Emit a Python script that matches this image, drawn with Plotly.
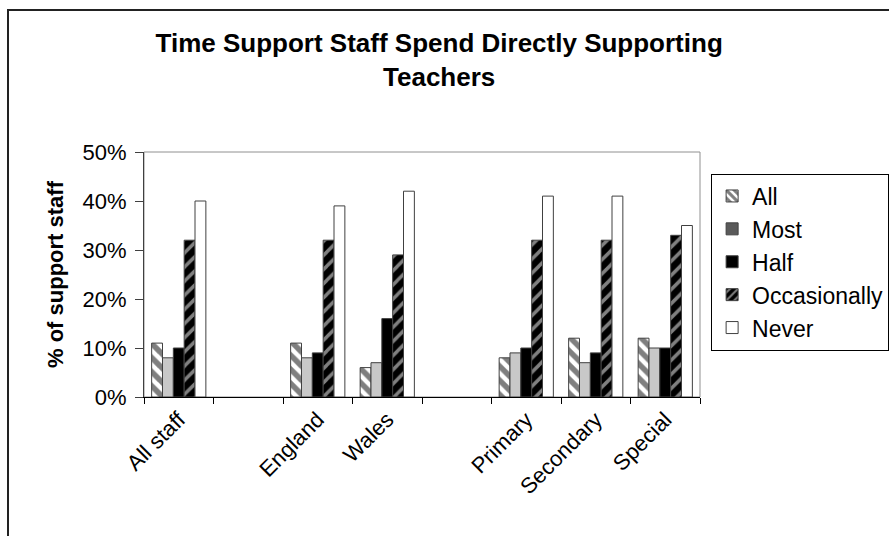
import plotly.graph_objects as go

categories = ["All staff", " ", "England", "Wales", "  ", "Primary", "Secondary", "Special"]
series_names = ["All", "Most", "Half", "Occasionally", "Never"]
all_vals = [0.11, None, 0.11, 0.06, None, 0.08, 0.12, 0.12]
most_vals = [0.08, None, 0.08, 0.07, None, 0.09, 0.07, 0.10]
half_vals = [0.10, None, 0.09, 0.16, None, 0.10, 0.09, 0.10]
occ_vals = [0.32, None, 0.32, 0.29, None, 0.32, 0.32, 0.33]
never_vals = [0.40, None, 0.39, 0.42, None, 0.41, 0.41, 0.35]
y_ticks = [0, 0.1, 0.2, 0.3, 0.4, 0.5]
y_ticktext = ["0%", "10%", "20%", "30%", "40%", "50%"]

FONT = "Arial, Liberation Sans, sans-serif"

bar_styles = [
    dict(color="white", pattern=dict(shape="\\", fgcolor="black", bgcolor="white", size=10, solidity=0.55)),
    dict(color="#c8c8c8"),
    dict(color="black"),
    dict(color="black", pattern=dict(shape="/", fgcolor="white", bgcolor="black", size=10, solidity=0.35)),
    dict(color="white"),
]
legend_styles = [
    dict(color="white", pattern=dict(shape="\\", fgcolor="black", bgcolor="white", size=7, solidity=0.55)),
    dict(color="#5a5a5a"),
    dict(color="black"),
    dict(color="black", pattern=dict(shape="/", fgcolor="white", bgcolor="black", size=7, solidity=0.35)),
    dict(color="white"),
]
values = [all_vals, most_vals, half_vals, occ_vals, never_vals]


def make_marker(st):
    m = dict(color=st["color"], line=dict(color="#404040", width=1))
    if "pattern" in st:
        m["pattern"] = st["pattern"]
    return m


fig = go.Figure()
for name, vals, st in zip(series_names, values, bar_styles):
    fig.add_trace(go.Bar(x=categories, y=vals, name=name, marker=make_marker(st),
                         showlegend=False))
# legend entries (Excel legend swatches differ slightly from bar fills)
for name, st in zip(series_names, legend_styles):
    fig.add_trace(go.Bar(x=[None], y=[None], name=name, marker=make_marker(st),
                         xaxis="x2", yaxis="y2", legendgroup=name, showlegend=True))

fig.update_layout(
    width=889, height=536,
    barmode="group", bargap=0.22, bargroupgap=0,
    plot_bgcolor="white", paper_bgcolor="white",
    margin=dict(l=144, r=189, t=152, b=139, autoexpand=False),
    font=dict(family=FONT, size=22, color="black"),
    title=dict(text="<b>Time Support Staff Spend Directly Supporting<br>Teachers</b>",
               x=0.494, xanchor="center", y=0.903, yanchor="top",
               font=dict(family=FONT, size=26, color="black")),
    legend=dict(x=1.02, xanchor="left", y=0.551, yanchor="middle",
                bordercolor="black", borderwidth=1, bgcolor="white",
                font=dict(family=FONT, size=23, color="black"),
                tracegroupgap=5, traceorder="normal"),
    showlegend=True,
    xaxis2=dict(overlaying="x", visible=False, range=[0, 1]),
    yaxis2=dict(overlaying="y", visible=False, range=[0, 1]),
    xaxis=dict(type="category", categoryorder="array", categoryarray=categories,
               showline=True, linecolor="black", linewidth=1,
               ticks="outside", tickson="boundaries", ticklen=6, tickcolor="black",
               tickangle=-45, tickfont=dict(family=FONT, size=22),
               showgrid=False, zeroline=False),
    yaxis=dict(range=[0, 0.5], tickvals=y_ticks, ticktext=y_ticktext,
               showline=True, linecolor="#404040", linewidth=1,
               ticks="outside", ticklen=8, tickcolor="#404040",
               tickfont=dict(family=FONT, size=22), ticklabelstandoff=4,
               showgrid=False, zeroline=False,
               title=dict(text="<b>% of support staff</b>",
                          font=dict(family=FONT, size=22), standoff=12)),
)
# plot area border
fig.add_shape(type="rect", xref="paper", yref="paper", x0=0, y0=0, x1=1, y1=1,
              line=dict(color="#909090", width=1), layer="below")
# outer chart frame
fig.add_shape(type="rect", xref="paper", yref="paper", x0=-0.2446, y0=-0.7, x1=1.5, y1=1.5796,
              line=dict(color="#222222", width=2), layer="below")

fig.write_html("out.html")
